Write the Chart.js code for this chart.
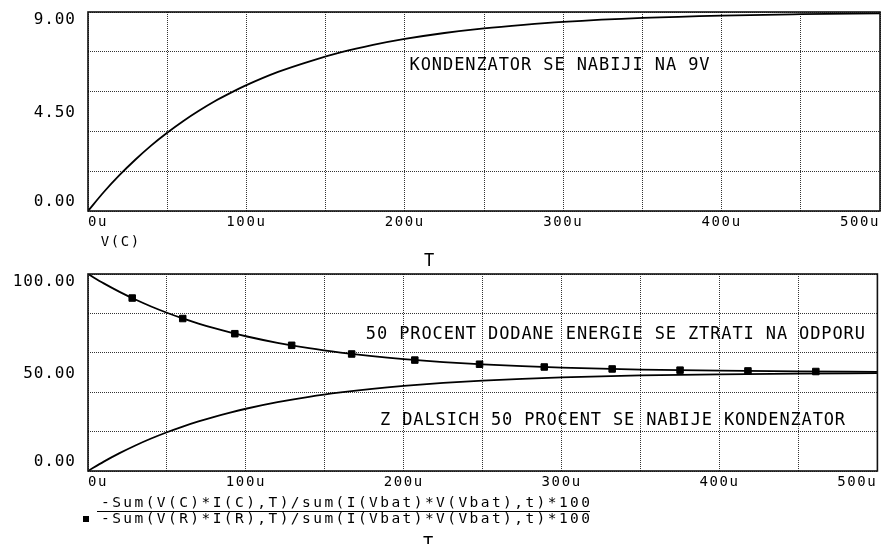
<!DOCTYPE html>
<html>
<head>
<meta charset="utf-8">
<script src="https://cdn.jsdelivr.net/npm/chart.js@4.4.1/dist/chart.umd.min.js"></script>
<style>
  body { margin: 0; background: #fff; }
  #wrap { position: relative; width: 883px; height: 544px; overflow: hidden; }
  canvas { position: absolute; left: 0; }
  #topChart { top: 0; }
  #botChart { top: 262px; }
</style>
</head>
<body>
<div id="wrap">
  <canvas id="topChart" width="883" height="272"></canvas>
  <canvas id="botChart" width="883" height="282"></canvas>
</div>
<script>
// time axis in microseconds
const tTop = [0, 10, 20, 30, 40, 50, 60, 70, 80, 90, 100, 120, 140, 160, 180, 200, 225, 250, 275, 300, 350, 400, 450, 500];
const vC = [0, 0.86, 1.63, 2.33, 2.97, 3.54, 4.06, 4.53, 4.96, 5.34, 5.69, 6.29, 6.77, 7.18, 7.51, 7.78, 8.05, 8.26, 8.42, 8.55, 8.73, 8.84, 8.90, 8.94];

const tBot = [0, 10, 20, 30, 40, 50, 60, 70, 80, 90, 100, 120, 140, 160, 180, 200, 225, 250, 275, 300, 350, 400, 450, 500];
const eCap = [0, 4.76, 9.06, 12.96, 16.48, 19.67, 22.56, 25.17, 27.53, 29.67, 31.6, 34.94, 37.67, 39.9, 41.74, 43.23, 44.73, 45.9, 46.8, 47.51, 48.49, 49.08, 49.44, 49.66];
const eRes = [100, 95.24, 90.94, 87.04, 83.52, 80.33, 77.44, 74.83, 72.47, 70.33, 68.4, 65.06, 62.33, 60.1, 58.26, 56.77, 55.27, 54.1, 53.2, 52.49, 51.51, 50.92, 50.56, 50.34];
const tMark = [28, 60, 93, 129, 167, 207, 248, 289, 332, 375, 418, 461];
const eResMark = [87.8, 77.4, 69.7, 63.8, 59.4, 56.3, 54.2, 52.8, 51.8, 51.2, 50.8, 50.5];

const yTicksTop = [0, 4.5, 9];
const yLabelsTop = ["0.00", "4.50", "9.00"];
const yTicksBot = [0, 50, 100];
const yLabelsBot = ["0.00", "50.00", "100.00"];

const legendC = "-Sum(V(C)*I(C),T)/sum(I(Vbat)*V(Vbat),t)*100";
const legendR = "-Sum(V(R)*I(R),T)/sum(I(Vbat)*V(Vbat),t)*100";

const MONO = "'DejaVu Sans Mono', 'Liberation Mono', monospace";

function pts(xs, ys) {
  return xs.map((x, i) => ({ x: x, y: ys[i] }));
}

// draw text with letter spacing, or stretched to a given width
function drawText(ctx, text, x, y, size, spacing, align, width) {
  ctx.save();
  ctx.font = size + "px " + MONO;
  ctx.letterSpacing = "0px";
  ctx.fillStyle = "#000";
  ctx.textBaseline = "middle";
  ctx.textAlign = "left";
  const w0 = ctx.measureText(text).width;
  const n = text.length;
  if (width) spacing = n > 1 ? (width - w0) / (n - 1) : 0;
  const w = w0 + spacing * (n - 1);
  let x0 = x;
  if (align === "right") x0 = x - w;
  if (align === "center") x0 = x - w / 2;
  ctx.letterSpacing = spacing + "px";
  ctx.fillText(text, x0, y);
  ctx.restore();
}

const plotPlugin = {
  id: "plotText",
  beforeDraw(chart) {
    chart.ctx.letterSpacing = "1.6px";
  },
  afterDraw(chart, args, o) {
    const ctx = chart.ctx;
    ctx.letterSpacing = "0px";
    const { left, top, right, bottom } = chart.chartArea;
    const xs = chart.scales.x;
    const ys = chart.scales.y;

    ctx.save();
    ctx.strokeStyle = "#111";
    ctx.lineWidth = 1.6;
    ctx.strokeRect(left, top, right - left, bottom - top);
    ctx.restore();

    o.yTicks.forEach((v, i) => {
      let shift = 1;
      if (i === 0) shift = -9;
      if (i === o.yTicks.length - 1) shift = 8;
      drawText(ctx, o.yLabels[i], left - 13, ys.getPixelForValue(v) + shift, 16, 0.9, "right");
    });

    o.notes.forEach(n => {
      drawText(ctx, n.text, xs.getPixelForValue(n.x), ys.getPixelForValue(n.y), 17, 0, "left", n.width);
    });

    if (o.extra) o.extra(ctx, chart.chartArea);
  }
};

function makeChart(id, axisH, yMax, yStep, datasets, pluginOpts) {
  return new Chart(document.getElementById(id), {
    type: "line",
    data: { datasets: datasets },
    plugins: [plotPlugin],
    options: {
      responsive: false,
      animation: false,
      events: [],
      layout: { padding: { top: 12, right: 3, left: 0, bottom: 0 } },
      plugins: {
        legend: { display: false },
        tooltip: { enabled: false },
        plotText: pluginOpts
      },
      scales: {
        x: {
          type: "linear",
          min: 0,
          max: 500,
          afterFit: s => { s.height = axisH; },
          ticks: {
            stepSize: 50,
            autoSkip: false,
            maxRotation: 0,
            align: "inner",
            padding: 3,
            color: "#000",
            font: { family: MONO, size: 14 },
            callback: v => (v % 100 === 0 ? v + "u" : "")
          },
          grid: { color: "#333", lineWidth: 1, drawTicks: false },
          border: { display: false, dash: [1, 1] }
        },
        y: {
          min: 0,
          max: yMax,
          afterFit: s => { s.width = 88; },
          ticks: { stepSize: yStep, display: false },
          grid: { color: "#333", lineWidth: 1, drawTicks: false },
          border: { display: false, dash: [1, 1] }
        }
      }
    }
  });
}

const lineStyle = {
  borderColor: "#000",
  borderWidth: 1.8,
  pointRadius: 0,
  fill: false,
  cubicInterpolationMode: "monotone"
};

makeChart("topChart", 61, 9, 1.8, [
  Object.assign({ label: "V(C)", data: pts(tTop, vC) }, lineStyle)
], {
  yTicks: yTicksTop,
  yLabels: yLabelsTop,
  notes: [{ text: "KONDENZATOR SE NABIJI NA 9V", x: 203, y: 6.57, width: 300 }],
  extra: (ctx, a) => {
    drawText(ctx, "V(C)", a.left + 32, a.bottom + 31, 14, 1.6, "center");
    drawText(ctx, "T", a.left + 341, a.bottom + 51, 17, 0, "center");
  }
});

makeChart("botChart", 73, 100, 20, [
  Object.assign({ label: legendC, data: pts(tBot, eCap) }, lineStyle),
  Object.assign({ label: legendR, data: pts(tBot, eRes) }, lineStyle),
  {
    label: legendR,
    data: pts(tMark, eResMark),
    showLine: false,
    pointStyle: "rect",
    pointRadius: 4.6,
    pointBorderWidth: 1,
    pointBackgroundColor: "#000",
    pointBorderColor: "#000"
  }
], {
  yTicks: yTicksBot,
  yLabels: yLabelsBot,
  notes: [
    { text: "50 PROCENT DODANE ENERGIE SE ZTRATI NA ODPORU", x: 176, y: 69.3, width: 499 },
    { text: "Z DALSICH 50 PROCENT SE NABIJE KONDENZATOR", x: 185, y: 25.4, width: 465 }
  ],
  extra: (ctx, a) => {
    drawText(ctx, legendC, a.left + 13, a.bottom + 32, 14.5, 0, "left", 489);
    ctx.save();
    ctx.strokeStyle = "#000";
    ctx.lineWidth = 1;
    ctx.beginPath();
    ctx.moveTo(a.left + 9, a.bottom + 40.5);
    ctx.lineTo(a.left + 502, a.bottom + 40.5);
    ctx.stroke();
    ctx.fillStyle = "#000";
    ctx.fillRect(a.left - 5, a.bottom + 45, 6, 6);
    ctx.restore();
    drawText(ctx, legendR, a.left + 13, a.bottom + 48, 14.5, 0, "left", 489);
    drawText(ctx, "T", a.left + 340, a.bottom + 74, 17, 0, "center");
  }
});
</script>
</body>
</html>
